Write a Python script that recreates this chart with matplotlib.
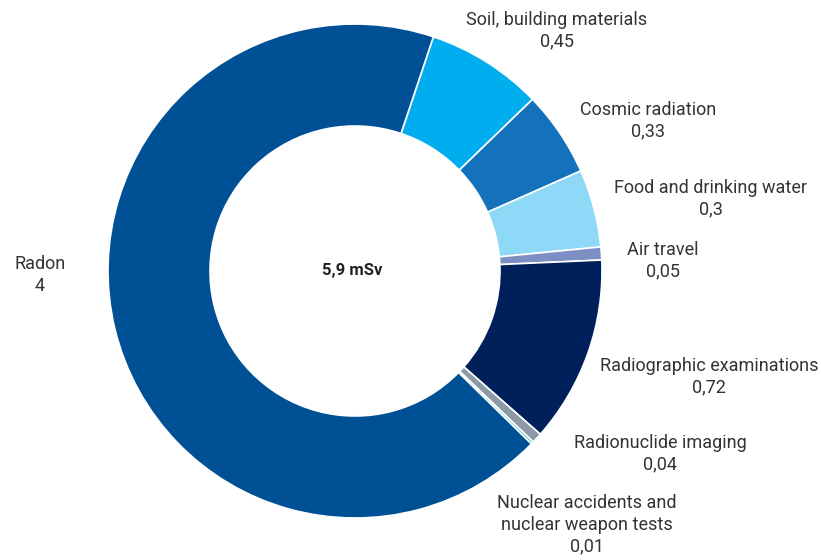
import matplotlib.pyplot as plt

# annual effective dose by source, mSv
sources = [
    "Soil, building materials",
    "Cosmic radiation",
    "Food and drinking water",
    "Air travel",
    "Radiographic examinations",
    "Radionuclide imaging",
    "Nuclear accidents and\nnuclear weapon tests",
    "Radon",
]
doses = [0.45, 0.33, 0.3, 0.05, 0.72, 0.04, 0.01, 4]
total_label = "5,9 mSv"

colors = ["#00adef", "#1472bc", "#8ed8f8", "#7b8fc4",
          "#00205b", "#8c9aa8", "#2ab8b0", "#005096"]

# label anchor points in pixel space (x from left, y from top)
label_pos = [(557, 31), (648, 121), (711, 199), (663, 261),
             (709, 377), (660, 454), (587, 525), (40, 275)]

W, H = 821, 560
fig = plt.figure(figsize=(W / 100, H / 100), dpi=100)
ax = fig.add_axes([0, 0, 1, 1])

cx, cy = 355, H - 271
ax.pie(doses, colors=colors, startangle=71.5, counterclock=False,
       center=(cx, cy), radius=247, frame=True,
       wedgeprops=dict(width=102, edgecolor="white", linewidth=1.2))
ax.set_xlim(0, W)
ax.set_ylim(0, H)
ax.set_aspect("equal")
ax.axis("off")

plt.rcParams["font.family"] = ["Roboto", "DejaVu Sans"]
for name, val, (x, y) in zip(sources, doses, label_pos):
    txt = f"{name}\n{val:g}".replace(".", ",")
    ax.text(x, H - y, txt, ha="center", va="center", fontsize=13,
            color="#333333", linespacing=1.25)

ax.text(cx - 3, cy, total_label, ha="center", va="center", fontsize=12,
        fontweight="bold", color="#222222")

fig.savefig("out.png", dpi=100)
